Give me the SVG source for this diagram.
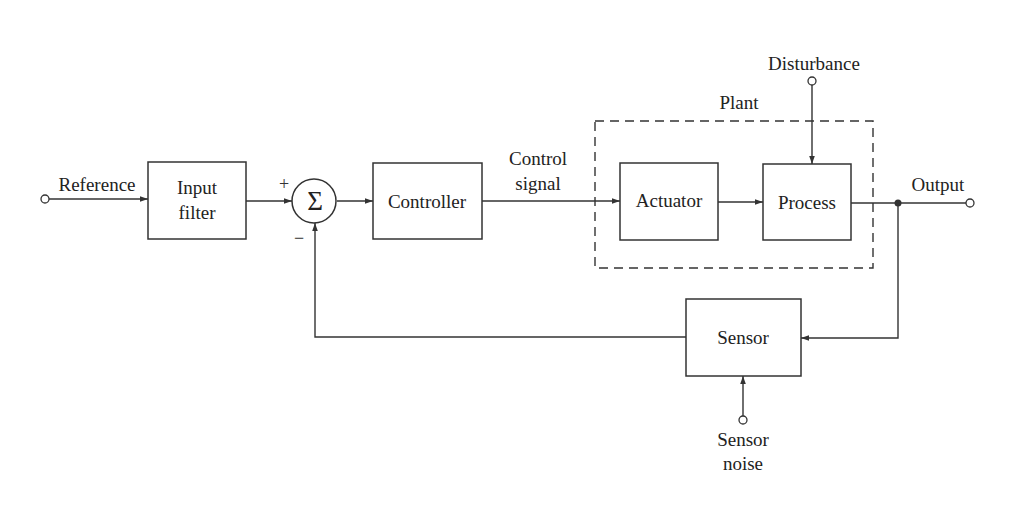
<svg xmlns="http://www.w3.org/2000/svg" width="1018" height="505" viewBox="0 0 1018 505">
<defs>
<style>
.box{fill:#fff;stroke:#333;stroke-width:1.5}
.ln{fill:none;stroke:#333;stroke-width:1.4}
.term{fill:#fff;stroke:#333;stroke-width:1.3}
text{font-family:"Liberation Serif","Times New Roman",serif;font-size:19px;fill:#222;text-anchor:middle}
text.sig{font-size:27px}
text.pm{font-size:18px;fill:#333}
</style>
<marker id="ah" viewBox="0 0 10 10" refX="10" refY="5" markerWidth="8" markerHeight="8" markerUnits="userSpaceOnUse" orient="auto">
<path d="M0,1.5 L10,5 L0,8.5 z" fill="#333"/>
</marker>
</defs>
<rect width="1018" height="505" fill="#fff"/>
<g id="connectors">
<line class="ln" x1="49" y1="199" x2="148" y2="199" marker-end="url(#ah)"/>
<line class="ln" x1="246" y1="201" x2="292" y2="201" marker-end="url(#ah)"/>
<line class="ln" x1="337" y1="201" x2="373" y2="201" marker-end="url(#ah)"/>
<line class="ln" x1="482" y1="201" x2="620" y2="201" marker-end="url(#ah)"/>
<line class="ln" x1="718" y1="202" x2="763" y2="202" marker-end="url(#ah)"/>
<line class="ln" x1="812" y1="85" x2="812" y2="164" marker-end="url(#ah)"/>
<line class="ln" x1="851" y1="203" x2="966" y2="203"/>
<polyline class="ln" points="898,203 898,338 801,338" marker-end="url(#ah)"/>
<polyline class="ln" points="686,337 315,337 315,223" marker-end="url(#ah)"/>
<line class="ln" x1="743" y1="416" x2="743" y2="376" marker-end="url(#ah)"/>
<circle cx="898" cy="203" r="3.5" fill="#333"/>
</g>
<g id="reference">
<circle class="term" cx="45" cy="199" r="4"/>
<text x="97" y="191">Reference</text>
</g>
<g id="input-filter">
<rect class="box" x="148" y="162" width="98" height="77"/>
<text x="197" y="194">Input</text>
<text x="197" y="219">filter</text>
</g>
<g id="sum">
<circle class="box" cx="314" cy="201" r="22"/>
<text class="sig" x="315" y="210">Σ</text>
<text class="pm" x="284" y="190">+</text>
<text class="pm" x="299" y="244">−</text>
</g>
<g id="controller">
<rect class="box" x="373" y="163" width="109" height="76"/>
<text x="427" y="208">Controller</text>
</g>
<g id="control-signal-label">
<text x="538" y="165">Control</text>
<text x="538" y="190">signal</text>
</g>
<g id="plant">
<rect x="595" y="121" width="278" height="147" fill="none" stroke="#333" stroke-width="1.4" stroke-dasharray="9,6"/>
<text x="739" y="109">Plant</text>
</g>
<g id="actuator">
<rect class="box" x="620" y="163" width="98" height="77"/>
<text x="669" y="207">Actuator</text>
</g>
<g id="process">
<rect class="box" x="763" y="164" width="88" height="76"/>
<text x="807" y="209">Process</text>
</g>
<g id="disturbance">
<circle class="term" cx="812" cy="81" r="4"/>
<text x="814" y="70">Disturbance</text>
</g>
<g id="output">
<circle class="term" cx="970" cy="203" r="4"/>
<text x="938" y="191">Output</text>
</g>
<g id="sensor">
<rect class="box" x="686" y="299" width="115" height="77"/>
<text x="743" y="344">Sensor</text>
</g>
<g id="sensor-noise">
<circle class="term" cx="743" cy="420" r="4"/>
<text x="743" y="446">Sensor</text>
<text x="743" y="470">noise</text>
</g>
</svg>
